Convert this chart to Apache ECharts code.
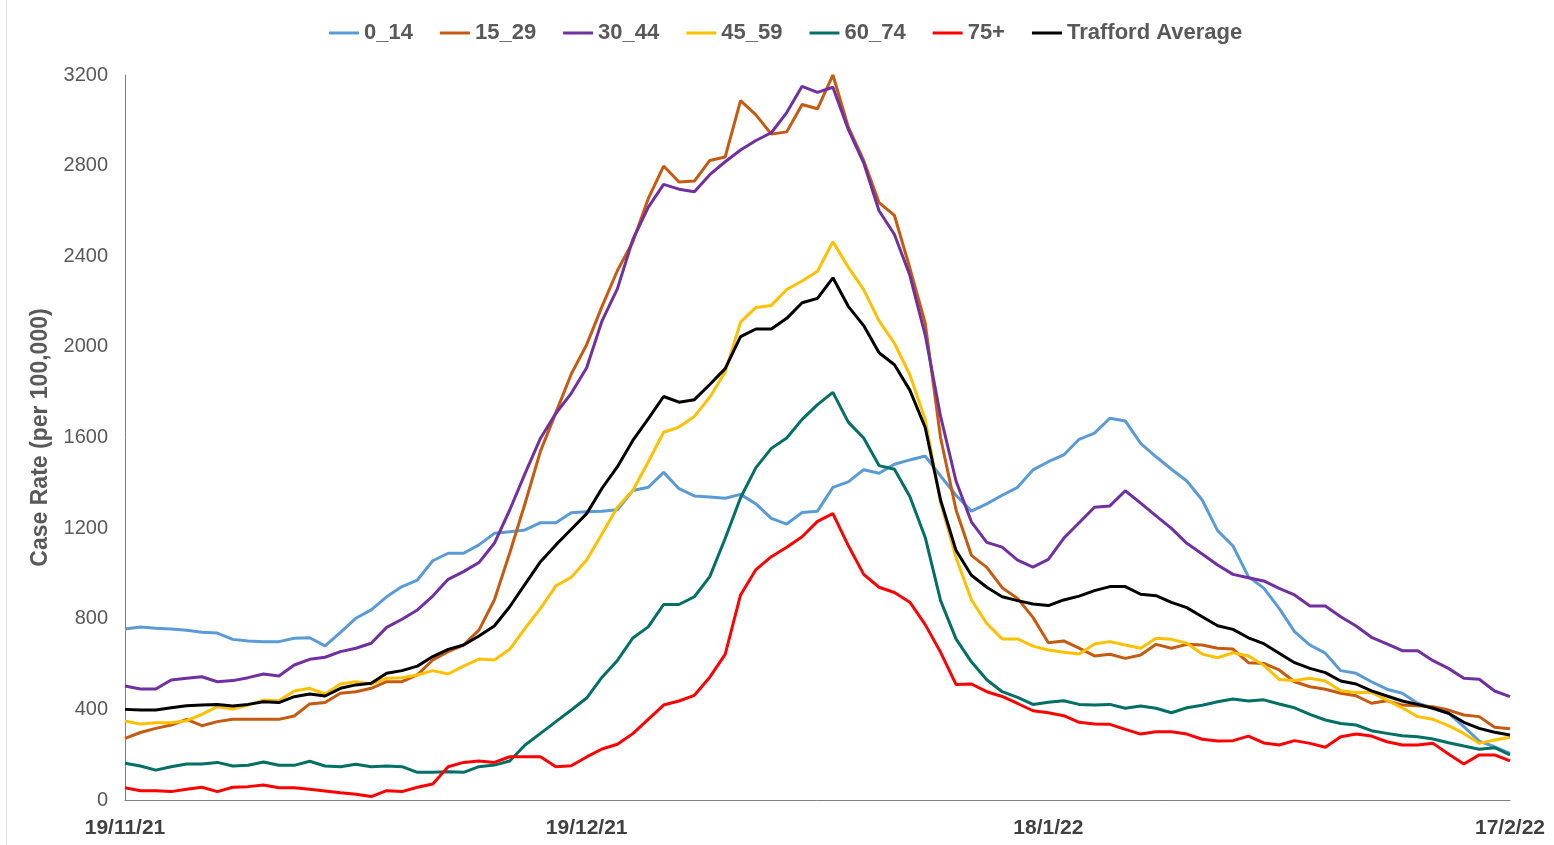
<!DOCTYPE html>
<html>
<head>
<meta charset="utf-8">
<script src="https://cdn.jsdelivr.net/npm/echarts@6/dist/echarts.min.js"></script>
<style>
  html, body { margin: 0; padding: 0; background: #fff; }
  #chart { width: 1554px; height: 845px; }
  #edge { position: absolute; left: 6px; top: 0; width: 1px; height: 845px; background: #e3e3e3; }
</style>
</head>
<body>
<div id="edge"></div>
<div id="chart"></div>
<script>
// daily dates, 19/11/21 .. 17/2/22
const dates = [
  '19/11/21','20/11/21','21/11/21','22/11/21','23/11/21','24/11/21','25/11/21','26/11/21','27/11/21','28/11/21','29/11/21','30/11/21',
  '1/12/21','2/12/21','3/12/21','4/12/21','5/12/21','6/12/21','7/12/21','8/12/21','9/12/21','10/12/21','11/12/21','12/12/21','13/12/21','14/12/21','15/12/21','16/12/21',
  '17/12/21','18/12/21','19/12/21','20/12/21','21/12/21','22/12/21','23/12/21','24/12/21','25/12/21','26/12/21','27/12/21','28/12/21','29/12/21','30/12/21','31/12/21',
  '1/1/22','2/1/22','3/1/22','4/1/22','5/1/22','6/1/22','7/1/22','8/1/22','9/1/22','10/1/22','11/1/22','12/1/22','13/1/22','14/1/22','15/1/22','16/1/22',
  '17/1/22','18/1/22','19/1/22','20/1/22','21/1/22','22/1/22','23/1/22','24/1/22','25/1/22','26/1/22','27/1/22','28/1/22','29/1/22','30/1/22','31/1/22',
  '1/2/22','2/2/22','3/2/22','4/2/22','5/2/22','6/2/22','7/2/22','8/2/22','9/2/22','10/2/22','11/2/22','12/2/22','13/2/22','14/2/22','15/2/22','16/2/22','17/2/22'
]

const yTicks = [0, 400, 800, 1200, 1600, 2000, 2400, 2800, 3200]

const age0_14 = [755,764,758,755,749,740,737,709,702,699,699,714,716,680,740,802,839,897,942,971,
  1056,1089,1089,1126,1177,1184,1192,1224,1224,1268,1272,1275,1281,1366,1380,1446,1374,1342,1337,1332,
  1349,1307,1243,1218,1269,1275,1380,1404,1458,1442,1482,1501,1518,1430,1345,1275,1307,1345,1380,1457,
  1493,1523,1592,1619,1685,1673,1574,1515,1460,1408,1324,1189,1121,986,935,846,743,684,648,571,
  559,522,489,471,427,405,383,324,260,235,206]

const age15_29 = [272,298,316,331,356,328,346,356,356,356,356,371,424,430,471,478,493,522,522,552,
  618,655,684,750,883,1090,1310,1540,1710,1880,2010,2179,2337,2464,2654,2798,2728,2732,2823,2838,
  3087,3024,2939,2949,3070,3051,3200,2971,2823,2637,2580,2348,2105,1598,1281,1080,1027,937,890,806,
  694,702,670,636,643,625,640,687,670,687,684,670,666,606,603,574,522,500,489,471,
  460,427,438,419,416,412,397,375,368,321,315]

const age30_44 = [503,490,490,530,537,544,522,527,540,556,547,596,621,630,655,670,692,762,798,839,
  900,974,1008,1048,1133,1280,1442,1597,1707,1795,1908,2115,2257,2474,2616,2717,2696,2685,2760,2817,
  2869,2911,2945,3034,3150,3123,3146,2960,2812,2601,2496,2316,2052,1693,1408,1228,1137,1116,1059,1028,
  1062,1155,1224,1292,1298,1365,1310,1254,1199,1133,1086,1037,996,981,967,934,905,856,856,809,
  768,718,689,659,659,615,581,537,533,481,456]

const age45_59 = [349,335,341,341,350,378,412,402,419,441,438,481,493,468,512,522,512,537,540,552,
  571,556,591,622,618,665,758,846,945,983,1059,1175,1292,1366,1492,1623,1646,1693,1778,1889,
  2109,2174,2183,2253,2291,2334,2464,2352,2253,2115,2016,1877,1678,1313,1070,884,779,711,711,679,
  662,652,644,689,699,684,670,714,709,692,644,628,650,636,595,532,527,537,525,482,
  475,475,441,407,368,356,328,294,250,265,277]

const age60_74 = [162,150,132,147,159,159,166,150,153,168,153,153,171,150,147,158,147,150,147,122,
  122,125,122,147,154,172,243,294,346,397,450,542,616,715,764,863,863,897,986,1154,
  1334,1467,1552,1598,1680,1745,1799,1668,1598,1476,1460,1340,1159,880,711,610,531,478,453,422,
  431,438,422,419,422,405,415,405,385,407,418,434,446,437,442,424,407,378,353,338,
  331,306,294,284,279,269,253,238,224,231,199]

const age75plus = [54,41,41,37,47,56,37,56,59,66,54,54,47,40,32,25,15,41,37,56,
  71,147,166,172,166,191,191,191,147,151,190,225,246,293,356,419,437,462,542,643,
  905,1017,1074,1116,1162,1230,1264,1123,996,939,916,873,774,652,510,512,478,457,426,394,
  385,372,343,335,334,312,291,301,301,291,268,260,262,282,252,243,262,250,233,279,
  291,282,257,243,243,250,203,159,199,199,173]

const traffordAvg = [400,397,397,407,416,419,422,415,422,434,430,456,468,459,493,508,515,559,571,591,
  633,665,684,724,768,853,953,1052,1126,1195,1264,1376,1471,1587,1682,1781,1756,1767,1834,1904,
  2045,2079,2079,2126,2195,2214,2305,2179,2094,1974,1921,1809,1644,1323,1102,992,939,897,880,865,
  858,883,900,924,942,942,908,902,872,849,809,769,753,716,690,648,606,581,562,525,
  512,482,459,437,422,405,383,343,316,299,287]

const seriesNames = ['0_14', '15_29', '30_44', '45_59', '60_74', '75+', 'Trafford Average']
const seriesData = [age0_14, age15_29, age30_44, age45_59, age60_74, age75plus, traffordAvg]
const colors = ['#5B9BD5', '#C55A11', '#7030A0', '#FFC000', '#006F66', '#FF0000', '#000000']

const font = '"Liberation Sans", Arial, sans-serif'

let chart = echarts.init(document.getElementById('chart'))

let options = {
  animation: false,
  color: colors,
  textStyle: { fontFamily: font },
  legend: {
    top: 17,
    left: 324,
    icon: 'rect',
    itemWidth: 30,
    itemHeight: 3,
    itemGap: 27,
    textStyle: { color: '#595959', fontSize: 22, fontWeight: 'bold', fontFamily: font },
    data: seriesNames
  },
  grid: { left: 125, right: 44, top: 75, bottom: 45, containLabel: false },
  xAxis: {
    type: 'category',
    data: dates,
    boundaryGap: false,
    axisLine: { lineStyle: { color: '#7f7f7f', width: 1 } },
    axisTick: { show: false },
    axisLabel: {
      interval: 29,
      margin: 18,
      color: '#404040',
      fontSize: 21,
      fontWeight: 'bold',
      fontFamily: font
    },
    splitLine: { show: false }
  },
  yAxis: {
    type: 'value',
    min: yTicks[0],
    max: yTicks[yTicks.length - 1],
    interval: 400,
    name: 'Case Rate (per 100,000)',
    nameLocation: 'middle',
    nameGap: 62,
    nameTextStyle: { color: '#595959', fontSize: 23, fontWeight: 'bold', fontFamily: font },
    axisLine: { show: true, lineStyle: { color: '#7f7f7f', width: 1 } },
    axisTick: { show: false },
    axisLabel: {
      margin: 17,
      color: '#595959',
      fontSize: 20,
      fontFamily: font,
      formatter: v => String(v)
    },
    splitLine: { show: false }
  },
  series: seriesNames.map((name, i) => ({
    name: name,
    type: 'line',
    data: seriesData[i],
    symbol: 'none',
    smooth: false,
    clip: false,
    lineStyle: { width: 3, color: colors[i] },
    itemStyle: { color: colors[i] },
    z: 2 + i
  }))
}

chart.setOption(options)
</script>
</body>
</html>
